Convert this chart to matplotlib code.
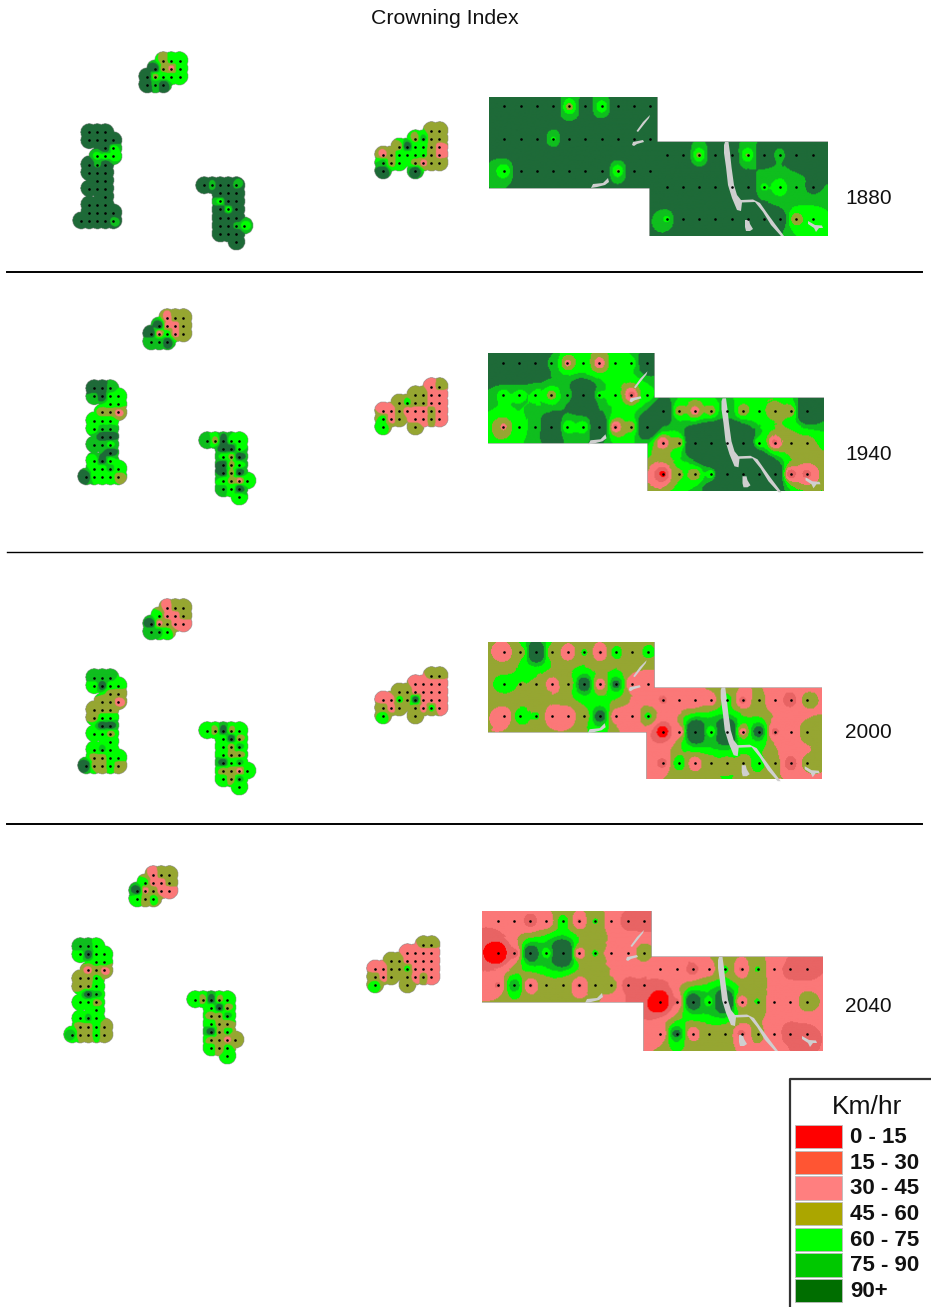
import matplotlib
matplotlib.use('Agg')
import matplotlib.pyplot as plt
from matplotlib.colors import ListedColormap, BoundaryNorm
from matplotlib.patches import Rectangle
import numpy as np

plt.rcParams['font.family'] = ['Liberation Sans', 'DejaVu Sans']

years = ['1880', '1940', '2000', '2040']
legend_labels = ['0 - 15', '15 - 30', '30 - 45', '45 - 60', '60 - 75', '75 - 90', '90+']
class_bounds = [-100, 15, 30, 45, 60, 75, 90, 1000]
# km/hr given to each class, used for the small plot clusters
class_kmh = [8, 22, 38, 52, 66, 82, 108]

legend_colors = ['#FF0000', '#FF5533', '#FF7F7F', '#ABA600', '#00FF00', '#00C800', '#006E00']
map_colors = ['#FF0000', '#E86464', '#FB7878', '#96A632', '#00FF00', '#0FBE1E', '#1E6A38']

# Crowning index at the plots of the two big blocks (3 rows of 10 plots each)
block_a_1880 = [[110, 110, 110, 110, 52, 110, 60, 110, 110, 110],
                [110, 110, 110, 72, 110, 110, 110, 110, 110, 110],
                [62, 110, 110, 110, 110, 110, 110, 58, 110, 110]]
block_b_1880 = [[110, 110, 55, 110, 110, 58, 110, 85, 110, 110],
                [110, 110, 110, 110, 110, 110, 72, 60, 85, 95],
                [72, 110, 110, 110, 110, 110, 110, 110, 48, 60]]
block_a_1940 = [[170, 170, 170, 80, 38, 68, 32, 68, 68, 130],
                [68, 68, 70, 50, 75, 220, 70, 65, 22, 68],
                [42, 66, 80, 150, 60, 62, 150, 25, 50, 170]]
block_b_1940 = [[150, 50, 35, 50, 85, 48, 60, 48, 48, 170],
                [28, 48, 170, 200, 200, 200, 60, 25, 45, 55],
                [10, 58, 45, 62, 200, 200, 200, 150, 15, 25]]
block_a_2000 = [[30, 50, 150, 45, 30, 62, 28, 66, 50, 65],
                [65, 60, 60, 32, 52, 120, 28, 100, 30, 30],
                [30, 70, 62, 30, 30, 52, 110, 30, 30, 65]]
block_b_2000 = [[28, 30, 30, 35, 65, 25, 52, 30, 22, 50],
                [0, 30, 180, 60, 180, 35, 110, 25, 30, 55],
                [25, 70, 30, 52, 52, 52, 66, 50, 18, 50]]
block_a_2040 = [[30, 35, 20, 30, 66, 28, 62, 35, 22, 20],
                [-20, 22, 130, 66, 200, 28, 62, 35, 35, 60],
                [28, 90, 28, 52, 52, 28, 52, 52, 22, 30]]
block_b_2040 = [[32, 32, 22, 35, 62, 28, 62, 35, 22, 20],
                [-30, 28, 130, 68, 170, 30, 62, 32, 32, 60],
                [30, 100, 30, 52, 52, 25, 52, 35, 18, 25]]

# map position of each block per year: first plot x, first plot y, plot spacing
block_a_pos = [(504.3, 106.3, 16.2, 32.2), (503.3, 362.7, 16.0, 32.0),
               (504.0, 652.0, 16.0, 32.0), (497.7, 920.7, 16.25, 32.3)]
block_b_pos = [(666.7, 155.0, 16.2, 32.2), (663.0, 410.7, 16.0, 31.8),
               (663.0, 700.0, 16.0, 31.7), (660.3, 969.3, 16.25, 32.3)]
# block outlines per year: left, right, top, bottom
block_a_box = [(489, 657, 97, 188), (488, 654, 353, 443), (488, 654, 642, 732), (482, 651, 911, 1002)]
block_b_box = [(650, 828, 142, 236), (648, 824, 398, 491), (647, 822, 688, 779), (644, 823, 957, 1051)]

# plot layout of the small clusters, as (column, row) on the plot grid
cluster_t_cells = [(2, 0), (3, 0), (4, 0), (1, 1), (2, 1), (3, 1), (4, 1),
                   (0, 2), (1, 2), (2, 2), (3, 2), (4, 2), (0, 3), (1, 3), (2, 3)]
cluster_l_cells = [(1, 0), (2, 0), (3, 0), (1, 1), (2, 1), (3, 1), (4, 1), (3, 2), (4, 2),
                   (2, 3), (3, 3), (4, 3), (1, 4), (2, 4), (3, 4), (1, 5), (2, 5), (3, 5),
                   (2, 6), (3, 6), (1, 7), (2, 7), (3, 7), (3, 8), (1, 9), (2, 9), (3, 9),
                   (1, 10), (2, 10), (3, 10), (4, 10), (0, 11), (1, 11), (2, 11), (3, 11), (4, 11)]
cluster_r_cells = [(0, 0), (1, 0), (2, 0), (3, 0), (4, 0), (2, 1), (3, 1), (4, 1),
                   (2, 2), (3, 2), (4, 2), (2, 3), (3, 3), (4, 3), (2, 4), (3, 4), (4, 4),
                   (2, 5), (3, 5), (4, 5), (5, 5), (2, 6), (3, 6), (4, 6), (4, 7)]
cluster_m_cells = [(6, 0), (7, 0), (4, 1), (5, 1), (6, 1), (7, 1),
                   (2, 2), (3, 2), (4, 2), (5, 2), (6, 2), (7, 2),
                   (0, 3), (1, 3), (2, 3), (3, 3), (4, 3), (5, 3), (6, 3), (7, 3),
                   (0, 4), (1, 4), (2, 4), (4, 4), (5, 4), (6, 4), (7, 4), (0, 5), (4, 5)]

# class index (0 = 0-15 ... 6 = 90+) of every cluster plot, per year
cluster_t_1880 = [3, 4, 4, 6, 3, 2, 4, 6, 3, 4, 4, 4, 6, 5, 6]
cluster_t_1940 = [2, 3, 3, 6, 2, 2, 3, 6, 2, 4, 2, 3, 5, 5, 6]
cluster_t_2000 = [2, 3, 3, 4, 2, 2, 3, 6, 2, 3, 2, 2, 5, 5, 4]
cluster_t_2040 = [2, 3, 3, 4, 2, 2, 3, 6, 2, 3, 2, 2, 4, 3, 4]

cluster_l_1880 = [6, 6, 6, 6, 6, 6, 6, 6, 4, 4, 4, 4, 6, 5, 6, 6, 6, 6,
                  6, 6, 6, 6, 6, 6, 6, 6, 6, 6, 6, 6, 6, 6, 6, 6, 6, 5]
cluster_l_1940 = [6, 6, 5, 5, 6, 4, 4, 4, 4, 3, 3, 2, 4, 4, 4, 4, 5, 5,
                  6, 6, 5, 5, 4, 6, 4, 6, 4, 4, 4, 5, 4, 6, 4, 4, 4, 3]
cluster_l_2000 = [5, 5, 5, 4, 6, 4, 4, 3, 3, 3, 3, 2, 3, 3, 3, 3, 4, 4,
                  6, 6, 4, 4, 3, 4, 4, 5, 4, 3, 3, 4, 4, 6, 3, 3, 4, 3]
cluster_l_2040 = [5, 5, 4, 4, 6, 4, 4, 4, 4, 2, 3, 2, 3, 3, 4, 3, 3, 4,
                  6, 5, 4, 4, 3, 4, 4, 5, 4, 3, 3, 4, 3, 5, 3, 3, 4, 3]

cluster_r_1880 = [6, 5, 6, 6, 5, 6, 6, 6, 4, 6, 6, 6, 4, 6, 6, 6, 6, 6, 6, 5, 4, 6, 6, 6, 6]
cluster_r_1940 = [5, 3, 6, 4, 4, 6, 6, 4, 4, 3, 6, 6, 3, 4, 6, 3, 6, 4, 3, 2, 4, 5, 4, 6, 4]
cluster_r_2000 = [4, 3, 6, 3, 4, 4, 6, 3, 4, 3, 5, 4, 3, 3, 6, 4, 5, 3, 3, 2, 4, 4, 3, 5, 4]
cluster_r_2040 = [4, 3, 6, 3, 4, 4, 6, 3, 3, 3, 5, 4, 3, 3, 6, 3, 4, 3, 3, 2, 3, 4, 3, 4, 4]

cluster_m_1880 = [3, 3, 3, 5, 3, 3, 3, 6, 4, 4, 3, 2, 2, 3, 4, 4, 4, 4, 3, 2, 5, 3, 4, 3, 2, 3, 3, 6, 6]
cluster_m_1940 = [2, 3, 3, 3, 2, 2, 3, 4, 3, 3, 2, 2, 2, 2, 3, 2, 2, 2, 3, 2, 4, 2, 3, 2, 2, 3, 2, 4, 3]
cluster_m_2000 = [3, 3, 2, 2, 2, 2, 3, 3, 2, 2, 2, 2, 2, 2, 4, 3, 6, 2, 2, 2, 3, 2, 3, 3, 2, 4, 2, 4, 3]
cluster_m_2040 = [3, 3, 2, 2, 2, 2, 3, 3, 2, 2, 2, 2, 2, 2, 3, 3, 4, 2, 2, 2, 3, 2, 3, 3, 2, 3, 2, 4, 3]

# map position of column 0 / row 0 for each cluster, per year
cluster_t_pos = [(147.3, 61.0), (150.7, 318.0), (150.7, 607.5), (137.0, 875.0)]
cluster_l_pos = [(81.0, 132.3), (85.7, 388.3), (85.7, 677.5), (71.5, 946.0)]
cluster_r_pos = [(204.0, 185.3), (207.0, 441.0), (207.0, 730.5), (194.5, 1000.0)]
cluster_m_pos = [(382.7, 130.7), (382.7, 386.7), (382.7, 676.0), (375.0, 944.5)]
cluster_step = 8.05

# water bodies in map units of the 1880 panel, shifted per year
river_x = [725, 728.5, 730, 731.5, 734, 737, 741, 753, 760, 767, 775, 784, 781, 771, 763, 755, 742, 741, 737, 732, 728, 726, 724, 724]
river_y = [142, 142, 153, 167, 185, 195, 200, 199.5, 203, 213, 224, 236, 236, 225, 212, 202, 202.5, 211, 210, 198, 185, 167, 153, 145]
pond_x = [745, 749, 750, 753, 750, 746, 745]
pond_y = [220, 220, 224, 229, 231, 231, 227]
stream_b_x = [808, 815, 822, 823, 819, 816, 814, 808]
stream_b_y = [221, 225, 225.5, 228, 228, 232, 228, 224]
stream_a_x = [650, 649, 638, 636.5, 643]
stream_a_y = [115, 118, 132, 131, 122]
patch_a_x = [632, 633, 643, 644, 637, 634]
patch_a_y = [145, 142, 140, 142, 144, 146]
patch_c_x = [591, 593, 603, 608, 609, 605, 597]
patch_c_y = [188, 184, 183, 178, 182, 185, 187]
water_shift_x = [0, -2.5, -3.3, -6]
water_shift_y = [0, 256.3, 545.2, 815]

rule_y = [272, 552, 824]
rule_w = [1.4, 1.0, 1.4]


def idw(px, py, values, xx, yy, power, nearest):
    # inverse distance weighting over the nearest plots
    px = np.array(px)[:, None, None]
    py = np.array(py)[:, None, None]
    vals = np.array(values, dtype=float)
    d2 = (xx[None] - px) ** 2 + (yy[None] - py) ** 2 + 0.25
    order = np.argsort(d2, axis=0)[:nearest]
    d2 = np.take_along_axis(d2, order, axis=0)
    w = d2 ** (-power / 2)
    return (w * vals[order]).sum(axis=0) / w.sum(axis=0)


cmap = ListedColormap(map_colors)
norm = BoundaryNorm(class_bounds, cmap.N)

fig = plt.figure(figsize=(9.31, 13.07), dpi=100)
ax = fig.add_axes([0, 0, 1, 1])


def draw_surface(z, x0, x1, y0, y1):
    ax.imshow(z, extent=(x0, x1, y1, y0), origin='upper', cmap=cmap, norm=norm, aspect='auto',
              interpolation='bilinear', interpolation_stage='rgba', zorder=1)


def draw_block(a_vals, b_vals, a_pos, b_pos, a_box, b_box):
    px, py, vals = [], [], []
    for rows, pos in ((a_vals, a_pos), (b_vals, b_pos)):
        for r, row in enumerate(rows):
            for c, v in enumerate(row):
                px.append(pos[0] + c * pos[2])
                py.append(pos[1] + r * pos[3])
                vals.append(v)
    x0, x1 = min(a_box[0], b_box[0]), max(a_box[1], b_box[1])
    y0, y1 = min(a_box[2], b_box[2]), max(a_box[3], b_box[3])
    xx, yy = np.meshgrid(np.arange(x0, x1 + 1), np.arange(y0, y1 + 1))
    z = idw(px, py, vals, xx, yy, 2, 12)
    inside = np.zeros(xx.shape, dtype=bool)
    for b in (a_box, b_box):
        inside |= (xx >= b[0]) & (xx <= b[1]) & (yy >= b[2]) & (yy <= b[3])
    draw_surface(np.ma.masked_where(~inside, z), x0, x1, y0, y1)
    ax.scatter(px, py, s=3.5, c='black', linewidths=0, zorder=3)


def draw_cluster(cells, classes, pos):
    px = [pos[0] + c * cluster_step for c, r in cells]
    py = [pos[1] + r * cluster_step for c, r in cells]
    vals = [class_kmh[k] for k in classes]
    x0, x1 = min(px) - 10, max(px) + 10
    y0, y1 = min(py) - 10, max(py) + 10
    xx, yy = np.meshgrid(np.arange(x0, x1 + 0.5, 0.5), np.arange(y0, y1 + 0.5, 0.5))
    z = idw(px, py, vals, xx, yy, 3, 12)
    dist = np.full(xx.shape, 1e9)
    for x, y in zip(px, py):
        dist = np.minimum(dist, np.hypot(xx - x, yy - y))
    draw_surface(np.ma.masked_where(dist > 8.6, z), x0, x1, y0, y1)
    ax.scatter(px, py, s=3.5, c='black', linewidths=0, zorder=3)


block_a_all = [block_a_1880, block_a_1940, block_a_2000, block_a_2040]
block_b_all = [block_b_1880, block_b_1940, block_b_2000, block_b_2040]
cluster_sets = [
    (cluster_t_cells, [cluster_t_1880, cluster_t_1940, cluster_t_2000, cluster_t_2040], cluster_t_pos),
    (cluster_l_cells, [cluster_l_1880, cluster_l_1940, cluster_l_2000, cluster_l_2040], cluster_l_pos),
    (cluster_r_cells, [cluster_r_1880, cluster_r_1940, cluster_r_2000, cluster_r_2040], cluster_r_pos),
    (cluster_m_cells, [cluster_m_1880, cluster_m_1940, cluster_m_2000, cluster_m_2040], cluster_m_pos),
]
water = [(river_x, river_y), (pond_x, pond_y), (stream_b_x, stream_b_y),
         (stream_a_x, stream_a_y), (patch_a_x, patch_a_y), (patch_c_x, patch_c_y)]
year_label_y = [199, 455, 733, 1007]

for i in range(4):
    draw_block(block_a_all[i], block_b_all[i], block_a_pos[i], block_b_pos[i], block_a_box[i], block_b_box[i])
    for cells, classes, pos in cluster_sets:
        draw_cluster(cells, classes[i], pos[i])
    for wx, wy in water:
        ax.fill(np.array(wx) + water_shift_x[i], np.array(wy) + water_shift_y[i], color='#CFCFCF', lw=0, zorder=2)
    ax.text(845, year_label_y[i], years[i], fontsize=15, va='center', ha='left', color='#111111')

for y, w in zip(rule_y, rule_w):
    ax.plot([7, 922], [y, y], color='black', lw=w, zorder=4)

ax.text(444.5, 19, 'Crowning Index', fontsize=15.3, ha='center', va='center', color='#111111')

# legend box
ax.plot([931, 790, 790], [1079, 1079, 1307], color='#333333', lw=1.6, zorder=4)
ax.text(867, 1107, 'Km/hr', fontsize=19, ha='center', va='center', color='#111111')
for i in range(len(legend_labels)):
    y = 1125 + i * 25.65
    ax.add_patch(Rectangle((795, y), 46.5, 23.3, facecolor=legend_colors[i], edgecolor='#BBBBBB', lw=0.6, zorder=4))
    ax.text(850, y + 12.5, legend_labels[i], fontsize=16, fontweight='bold', ha='left', va='center', color='#111111')

ax.set_xlim(0, 931)
ax.set_ylim(1307, 0)
ax.axis('off')

fig.savefig('out.png', dpi=100)
